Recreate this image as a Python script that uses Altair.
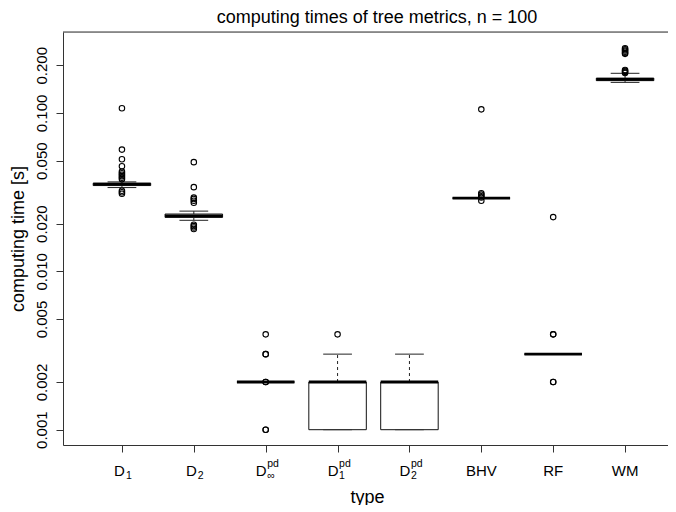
import altair as alt
import pandas as pd

FONT = "Liberation Sans"

# ---- data ----
categories = ["D1", "D2", "Dinf_pd", "D1_pd", "D2_pd", "BHV", "RF", "WM"]
positions = [1, 2, 3, 4, 5, 6, 7, 8]
q1 = [0.0348, 0.0219, 0.002, 0.001, 0.001, 0.029, 0.003, 0.160]
median = [0.0355, 0.0224, 0.002, 0.002, 0.002, 0.029, 0.003, 0.163]
q3 = [0.0360, 0.0230, 0.002, 0.002, 0.002, 0.029, 0.003, 0.166]
whisker_lo = [0.0338, 0.0210, 0.002, 0.001, 0.001, 0.029, 0.003, 0.156]
whisker_hi = [0.0367, 0.0240, 0.002, 0.003, 0.003, 0.029, 0.003, 0.178]

outliers_D1 = [0.107, 0.0587, 0.0510, 0.0461, 0.0426, 0.0416, 0.0407, 0.0399,
               0.0390, 0.0382, 0.0323, 0.0316, 0.0309]
outliers_D2 = [0.0489, 0.0340, 0.0292, 0.0286, 0.0279, 0.0271, 0.0197, 0.0193,
               0.0189, 0.0185]
outliers_Dinf_pd = [0.001, 0.001, 0.002, 0.002, 0.003, 0.003, 0.004]
outliers_D1_pd = [0.004]
outliers_D2_pd = []
outliers_BHV = [0.1054, 0.0311, 0.0305, 0.0298, 0.0293, 0.0279]
outliers_RF = [0.0220, 0.004, 0.004, 0.002, 0.002]
outliers_WM = [0.2565, 0.2520, 0.2477, 0.2434, 0.2392, 0.2362,
               0.1869, 0.1842, 0.1816, 0.1789]

label_main = ["D", "D", "D", "D", "D", "BHV", "RF", "WM"]
label_sub = ["1", "2", "\u221e", "1", "2", "", "", ""]
label_sup = ["", "", "pd", "pd", "pd", "", "", ""]

y_ticks = [0.001, 0.002, 0.005, 0.010, 0.020, 0.050, 0.100, 0.200]
title_text = "computing times of tree metrics, n = 100"

# ---- tables ----
box_df = pd.DataFrame({
    "cat": categories, "pos": positions, "q1": q1, "med": median, "q3": q3,
    "wlo": whisker_lo, "whi": whisker_hi,
})
out_lists = [outliers_D1, outliers_D2, outliers_Dinf_pd, outliers_D1_pd,
             outliers_D2_pd, outliers_BHV, outliers_RF, outliers_WM]
out_rows = []
for p, lst in zip(positions, out_lists):
    for v in lst:
        out_rows.append({"pos": p, "val": v})
out_df = pd.DataFrame(out_rows)
lab_df = pd.DataFrame({"pos": positions, "main": label_main,
                       "sub": label_sub, "sup": label_sup})

W, H = 605, 413
PX_PER_UNIT = 71.875
xs = alt.Scale(domain=[0.18, 0.18 + W / PX_PER_UNIT], nice=False, zero=False)
ys = alt.Scale(type="log", domain=[0.0008005, 0.3245], nice=False)

x_axis = alt.Axis(values=positions, labels=False, tickSize=7, grid=False,
                  title="type", titleFontSize=18, titleFont=FONT,
                  titleFontWeight="normal", titleColor="black",
                  titleX=304, titleY=57, titleBaseline="alphabetic",
                  titleAlign="center", domainColor="#333", tickColor="#333")
y_axis = alt.Axis(values=y_ticks, format=".3f", labelAngle=-90,
                  labelAlign="center", labelBaseline="alphabetic",
                  labelPadding=10, tickSize=7, grid=False,
                  labelFontSize=15, labelFont=FONT, labelColor="black",
                  labelOverlap=False, labelFlush=False,
                  title="computing time [s]", titleFontSize=18, titleFont=FONT,
                  titleFontWeight="normal", titleColor="black",
                  titleAngle=-90, titleX=-40, titleY=H / 2,
                  titleAlign="center", titleBaseline="alphabetic",
                  domainColor="#333", tickColor="#333")

base = alt.Chart(box_df).transform_calculate(
    xlo="datum.pos - 0.4", xhi="datum.pos + 0.4",
    clo="datum.pos - 0.2", chi="datum.pos + 0.2",
)

whisk_up = base.mark_rule(color="#222", strokeDash=[3, 3], strokeWidth=1).encode(
    x=alt.X("pos:Q", scale=xs, axis=x_axis),
    y=alt.Y("q3:Q", scale=ys, axis=y_axis),
    y2="whi:Q",
)
whisk_dn = base.mark_rule(color="#222", strokeDash=[3, 3], strokeWidth=1).encode(
    x=alt.X("pos:Q", scale=xs), y=alt.Y("wlo:Q", scale=ys), y2="q1:Q",
)
cap_hi = base.mark_rule(color="#222", strokeWidth=1).encode(
    x=alt.X("clo:Q", scale=xs), x2="chi:Q", y=alt.Y("whi:Q", scale=ys),
)
cap_lo = base.mark_rule(color="#222", strokeWidth=1).encode(
    x=alt.X("clo:Q", scale=xs), x2="chi:Q", y=alt.Y("wlo:Q", scale=ys),
)
boxes = base.mark_rect(fill="white", stroke="#111", strokeWidth=1).encode(
    x=alt.X("xlo:Q", scale=xs), x2="xhi:Q",
    y=alt.Y("q1:Q", scale=ys), y2="q3:Q",
)
med_line = base.mark_rule(color="black", strokeWidth=2.8).encode(
    x=alt.X("xlo:Q", scale=xs), x2="xhi:Q", y=alt.Y("med:Q", scale=ys),
)
points = alt.Chart(out_df).mark_point(
    shape="circle", filled=False, color="black", size=30, strokeWidth=1.1, opacity=1
).encode(x=alt.X("pos:Q", scale=xs), y=alt.Y("val:Q", scale=ys))

top_rule = alt.Chart(pd.DataFrame({"a": [0]})).mark_rule(
    color="#333", strokeWidth=1
).encode(x=alt.value(0), x2=alt.value(W), y=alt.value(0))

title = alt.Chart(pd.DataFrame({"t": [title_text]})).mark_text(
    font=FONT, fontSize=18, color="black", align="center", baseline="alphabetic"
).encode(x=alt.value(314), y=alt.value(-9), text="t:N")

LBL_Y = 444
lab = alt.Chart(lab_df)
lab_plain = lab.transform_filter(alt.datum.sub == "").mark_text(
    font=FONT, fontSize=15, color="black", align="center", baseline="alphabetic"
).encode(x=alt.X("pos:Q", scale=xs), y=alt.value(LBL_Y), text="main:N")
lab_d_sub = lab.transform_filter((alt.datum.sub != "") & (alt.datum.sup == "")).mark_text(
    font=FONT, fontSize=15, color="black", align="right", baseline="alphabetic", dx=3
).encode(x=alt.X("pos:Q", scale=xs), y=alt.value(LBL_Y), text="main:N")
lab_d_sub_s = lab.transform_filter((alt.datum.sub != "") & (alt.datum.sup == "")).mark_text(
    font=FONT, fontSize=10.5, color="black", align="left", baseline="alphabetic", dx=4
).encode(x=alt.X("pos:Q", scale=xs), y=alt.value(LBL_Y + 3), text="sub:N")
lab_d_pd = lab.transform_filter(alt.datum.sup != "").mark_text(
    font=FONT, fontSize=15, color="black", align="right", baseline="alphabetic", dx=1
).encode(x=alt.X("pos:Q", scale=xs), y=alt.value(LBL_Y), text="main:N")
lab_pd_sub = lab.transform_filter(alt.datum.sup != "").mark_text(
    font=FONT, fontSize=10.5, color="black", align="left", baseline="alphabetic", dx=1.5
).encode(x=alt.X("pos:Q", scale=xs), y=alt.value(LBL_Y + 3), text="sub:N")
lab_pd_sup = lab.transform_filter(alt.datum.sup != "").mark_text(
    font=FONT, fontSize=10.5, color="black", align="left", baseline="alphabetic", dx=1.5
).encode(x=alt.X("pos:Q", scale=xs), y=alt.value(LBL_Y - 9), text="sup:N")

chart = alt.layer(
    whisk_up, whisk_dn, cap_hi, cap_lo, boxes, med_line, points, top_rule, title,
    lab_plain, lab_d_sub, lab_d_sub_s, lab_d_pd, lab_pd_sub, lab_pd_sup,
).properties(
    width=W, height=H, autosize="none",
    padding={"left": 55, "top": 24, "right": 0, "bottom": 60},
).configure_view(stroke=None).configure(background="white")

chart.save("out.html", embed_options={"renderer": "svg", "actions": False})
